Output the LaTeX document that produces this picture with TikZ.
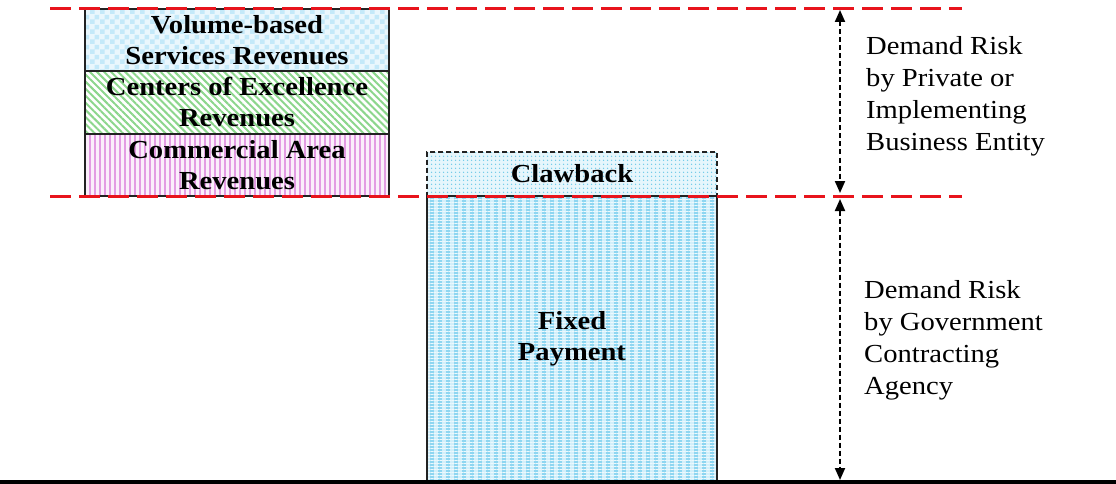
\documentclass[tikz,border=0pt]{standalone}
\usepackage{fontspec}
\setmainfont[FakeStretch=1.1]{Liberation Serif}
\usetikzlibrary{arrows.meta,patterns,patterns.meta}
\pgfdeclarepatternformonly{checker}{\pgfqpoint{0pt}{0pt}}{\pgfqpoint{10pt}{10pt}}{\pgfqpoint{10pt}{10pt}}{%
  \pgfpathrectangle{\pgfqpoint{0pt}{0pt}}{\pgfqpoint{5pt}{5pt}}%
  \pgfpathrectangle{\pgfqpoint{5pt}{5pt}}{\pgfqpoint{5pt}{5pt}}%
  \pgfusepath{fill}}
\definecolor{redline}{HTML}{E8141C}
\definecolor{chkA}{HTML}{EAF7FD}
\definecolor{chkB}{HTML}{C4E9F9}
\definecolor{grn}{HTML}{8CD68C}
\definecolor{pnk}{HTML}{E39CE3}
\definecolor{pnkbg}{HTML}{FBEFFB}
\definecolor{clawbg}{HTML}{E6F6FC}
\definecolor{clawdot}{HTML}{6CC8E8}
\definecolor{fixbg}{HTML}{D2EFFA}
\definecolor{fixln}{HTML}{8ED6F1}
\definecolor{edge}{HTML}{222222}
\tikzset{
  boxlbl/.style={font=\fontsize{26}{31}\selectfont\bfseries, align=center, inner sep=0pt,
    draw=edge, line width=1.4pt, rectangle},
  risklbl/.style={font=\fontsize{26}{32}\selectfont, align=left, inner sep=0pt, anchor=west},
  redrule/.style={draw=redline, line width=3pt, dash pattern=on 21pt off 8pt},
  riskarrow/.style={draw=black, line width=2pt, dash pattern=on 5pt off 3pt,
    {Triangle[length=12pt,width=10pt]}-{Triangle[length=12pt,width=10pt]}}
}
\begin{document}
\begin{tikzpicture}[x=1pt,y=-1pt]
\useasboundingbox (0,0) rectangle (1116,484);
% left stacked boxes
\node[boxlbl, minimum width=304, minimum height=62,
  preaction={fill=chkA}, pattern=checker, pattern color=chkB] (vol) at (237,40) {};
\node[font=\fontsize{26}{31}\selectfont\bfseries, align=center] (voltxt) at (vol.center) {Volume-based\\Services Revenues};
\node[boxlbl, minimum width=304, minimum height=63,
  preaction={fill=white}, pattern={Lines[angle=-45,distance=5pt,line width=2pt]}, pattern color=grn] (coe) at (237,102.5) {};
\node[font=\fontsize{26}{31}\selectfont\bfseries, align=center] (coetxt) at (coe.center) {Centers of Excellence\\Revenues};
\node[boxlbl, minimum width=304, minimum height=62,
  preaction={fill=pnkbg}, pattern={Lines[angle=90,distance=5pt,line width=2pt]}, pattern color=pnk] (com) at (237,165) {};
\node[font=\fontsize{26}{31}\selectfont\bfseries, align=center] (comtxt) at (com.center) {Commercial Area\\Revenues};
% clawback and fixed payment
\node[boxlbl, dash pattern=on 5pt off 3pt, minimum width=290, minimum height=44,
  preaction={fill=clawbg}, pattern={Dots[radius=0.9pt,distance=4pt]}, pattern color=clawdot] (claw) at (572,174) {};
\node[font=\fontsize{26}{31}\selectfont\bfseries] (clawtxt) at (claw.center) {Clawback};
\node[boxlbl, minimum width=290, minimum height=288,
  preaction={fill=fixbg},
  preaction={pattern={Lines[angle=90,distance=8pt,line width=3.5pt]}, pattern color=fixln},
  pattern={Lines[angle=0,distance=3pt,line width=0.6pt]}, pattern color=white!60!fixbg] (fix) at (572,340) {};
\draw[draw=edge, line width=1.6pt] (fix.north west) rectangle (fix.south east);
\node[font=\fontsize{26}{31}\selectfont\bfseries, align=center] (fixtxt) at (572,339) {Fixed\\Payment};
% rules
\coordinate (t1) at (50,9);
\coordinate (t2) at (962,9);
\coordinate (m1) at (50,196);
\coordinate (m2) at (962,196);
\coordinate (b1) at (0,482);
\coordinate (b2) at (1116,482);
\draw[redrule] (t1) -- (t2);
\draw[redrule] (m1) -- (m2);
\draw[line width=4pt] (b1) -- (b2);
% arrows
\coordinate (a1) at (840,10);
\coordinate (a2) at (840,193);
\coordinate (a3) at (840,199);
\coordinate (a4) at (840,480);
\draw[riskarrow] (a1) -- (a2);
\draw[riskarrow] (a3) -- (a4);
% labels
\node[risklbl] (priv) at (866,96) {Demand Risk\\by Private or\\Implementing\\Business Entity};
\node[risklbl] (gov) at (864,340) {Demand Risk\\by Government\\Contracting\\Agency};
\end{tikzpicture}
\end{document}
